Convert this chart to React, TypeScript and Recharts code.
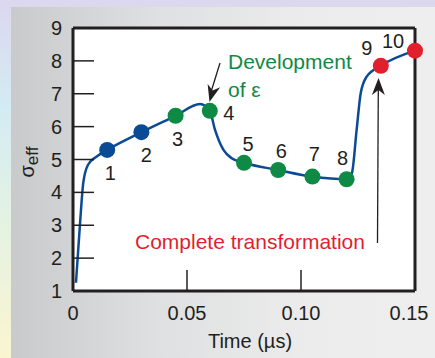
import { ComposedChart, Line, Scatter, XAxis, YAxis, CartesianGrid } from "recharts"

// curve (time in µs, effective stress)
const curveTime = [0.0013, 0.0031, 0.0045, 0.0066, 0.0104, 0.015, 0.03, 0.045, 0.0557, 0.06, 0.0623, 0.066, 0.0696, 0.075, 0.09, 0.105, 0.12, 0.1223, 0.1244, 0.1262, 0.1288, 0.135, 0.15]
const curveSigma = [1.25, 3.07, 4.29, 4.84, 5.09, 5.29, 5.83, 6.33, 6.69, 6.48, 5.9, 5.29, 5.04, 4.9, 4.68, 4.48, 4.4, 4.58, 5.9, 7.02, 7.52, 7.85, 8.31]

// numbered markers
const markerLabels = ["1", "2", "3", "4", "5", "6", "7", "8", "9", "10"]
const markerTime = [0.015, 0.03, 0.045, 0.06, 0.075, 0.09, 0.105, 0.12, 0.135, 0.15]
const markerSigma = [5.29, 5.83, 6.33, 6.48, 4.9, 4.68, 4.48, 4.4, 7.85, 8.31]
const markerPhase = ["before", "before", "dev", "dev", "dev", "dev", "dev", "dev", "done", "done"]

const xTicks = [0, 0.05, 0.1, 0.15]
const xTickLabels = ["0", "0.05", "0.10", "0.15"]
const yTicks = [1, 2, 3, 4, 5, 6, 7, 8, 9]

const FONT = '"Liberation Sans", Arial, Helvetica, sans-serif'
const INK = "#231f20"
const BLUE = "#0b4a94"
const GREEN = "#0f8a45"
const RED = "#e21f2d"
const phaseColor: Record<string, string> = { before: BLUE, dev: GREEN, done: RED }

// where each number sits relative to its dot
const labelOffset: Record<string, [number, number]> = {
	"1": [3, 23],
	"2": [5, 23],
	"3": [2, 23],
	"4": [19, 2],
	"5": [4, -19],
	"6": [3, -19],
	"7": [2, -23],
	"8": [-4, -21],
	"9": [-14, -18],
	"10": [-22, -10],
}

const curve = curveTime.map((t, i) => ({ t, s: curveSigma[i] }))
const markers = markerTime.map((t, i) => ({ t, s: markerSigma[i], label: markerLabels[i], phase: markerPhase[i] }))

function MarkerDot(props: any) {
	const { cx, cy, payload } = props
	const [dx, dy] = labelOffset[payload.label]
	return (
		<g>
			<circle cx={cx} cy={cy} r={8} fill={phaseColor[payload.phase]} />
			<text x={cx + dx} y={cy + dy} textAnchor="middle" dominantBaseline="central" fontSize={20} fill={INK} fontFamily={FONT}>
				{payload.label}
			</text>
		</g>
	)
}

function XTick(props: any) {
	const { x, y, payload } = props
	const i = xTicks.indexOf(payload.value)
	const shift = i === xTicks.length - 1 ? -6 : 0
	return (
		<text x={x + shift} y={y} dy="0.71em" textAnchor="middle" fontSize={20} fill={INK} fontFamily={FONT}>
			{xTickLabels[i]}
		</text>
	)
}

function arrowHead(x1: number, y1: number, x2: number, y2: number) {
	const len = Math.hypot(x2 - x1, y2 - y1)
	const ux = (x2 - x1) / len
	const uy = (y2 - y1) / len
	const bx = x2 - ux * 17
	const by = y2 - uy * 17
	const nx = x2 - ux * 12
	const ny = y2 - uy * 12
	return `${x2},${y2} ${bx - uy * 6.5},${by + ux * 6.5} ${nx},${ny} ${bx + uy * 6.5},${by - ux * 6.5}`
}

export default function App() {
	return (
		<div
			style={{
				position: "absolute",
				left: 0,
				top: 0,
				width: 435,
				height: 358,
				background: "linear-gradient(180deg, #dcd7ee 0%, #d3ebf3 30%, #e3f2e4 60%, #faf5d0 100%)",
			}}
		>
			<div
				style={{
					position: "absolute",
					left: 11,
					top: 7,
					width: 424,
					height: 351,
					background: "linear-gradient(90deg, #c9cacc 0%, #dfe0e1 35%, #ececec 70%, #eeeeee 100%)",
				}}
			/>
			<div style={{ position: "absolute", left: 0, top: 0 }}>
				<ComposedChart width={435} height={358} margin={{ top: 0, right: 0, bottom: 0, left: 0 }}>
					<CartesianGrid fill="#ffffff" horizontal={false} vertical={false} />
					<XAxis
						dataKey="t"
						type="number"
						domain={[0, 0.15]}
						ticks={xTicks}
						height={67}
						axisLine={{ stroke: INK, strokeWidth: 3 }}
						tickLine={{ stroke: INK, strokeWidth: 1.5 }}
						tickSize={-21}
						tickMargin={36}
						tick={<XTick />}
					/>
					<XAxis
						xAxisId="top"
						orientation="top"
						dataKey="t"
						type="number"
						domain={[0, 0.15]}
						ticks={xTicks}
						height={28}
						axisLine={{ stroke: INK, strokeWidth: 3 }}
						tickLine={{ stroke: INK, strokeWidth: 1.5 }}
						tickSize={-21}
						tick={false}
					/>
					<YAxis
						type="number"
						domain={[1, 9]}
						ticks={yTicks}
						width={73}
						axisLine={{ stroke: INK, strokeWidth: 3 }}
						tickLine={{ stroke: INK, strokeWidth: 1.5 }}
						tickSize={-21}
						tickMargin={32}
						tick={{ fontSize: 20, fill: INK, fontFamily: FONT }}
					/>
					<YAxis
						yAxisId="right"
						orientation="right"
						type="number"
						domain={[1, 9]}
						ticks={yTicks}
						width={20}
						axisLine={{ stroke: INK, strokeWidth: 3 }}
						tickLine={{ stroke: INK, strokeWidth: 1.5 }}
						tickSize={-19}
						tick={false}
					/>
					<Line data={curve} dataKey="s" type="monotone" stroke={BLUE} strokeWidth={2.5} dot={false} isAnimationActive={false} />
					<Scatter data={markers} dataKey="s" shape={<MarkerDot />} isAnimationActive={false} />

					<text x={34} y={162} transform="rotate(-90 34 162)" textAnchor="middle" fontFamily={FONT} fill={INK} fontSize={20}>
						σ
						<tspan dy={4} fontSize={17}>
							eff
						</tspan>
					</text>
					<text x={250} y={348} textAnchor="middle" fontFamily={FONT} fill={INK} fontSize={20}>
						Time (µs)
					</text>

					<text x={228} y={69} fontFamily={FONT} fill={GREEN} fontSize={21}>
						Development
					</text>
					<text x={228} y={97} fontFamily={FONT} fill={GREEN} fontSize={21}>
						of ε
					</text>
					<line x1={220} y1={63} x2={211} y2={92} stroke={INK} strokeWidth={1.3} />
					<polygon points={arrowHead(220, 63, 209.5, 102)} fill={INK} />

					<text x={135} y={249} fontFamily={FONT} fill={RED} fontSize={21}>
						Complete transformation
					</text>
					<line x1={377.5} y1={243} x2={378.3} y2={88} stroke={INK} strokeWidth={1.3} />
					<polygon points={arrowHead(377.5, 243, 378.5, 78)} fill={INK} />
				</ComposedChart>
			</div>
		</div>
	)
}
